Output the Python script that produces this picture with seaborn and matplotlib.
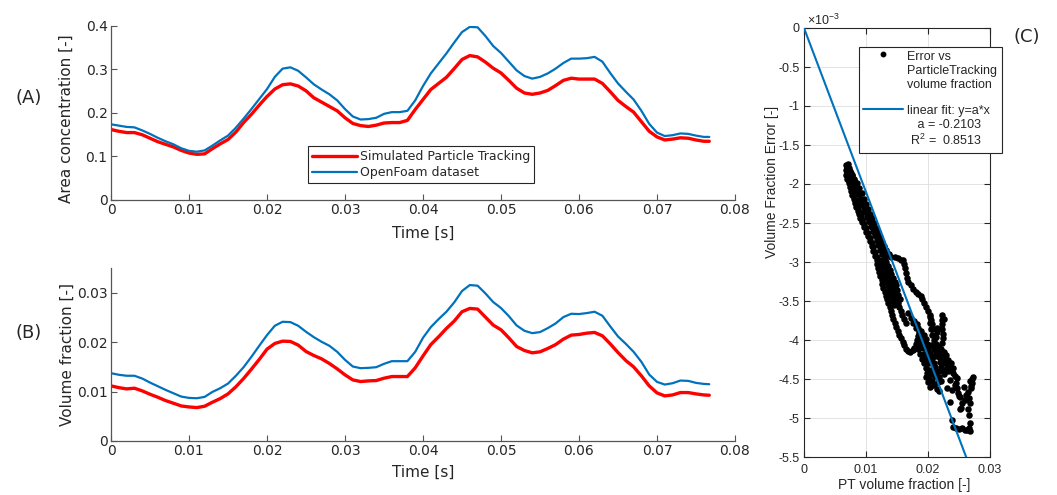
import numpy as np
import pandas as pd
import matplotlib
matplotlib.use("Agg")
import matplotlib.pyplot as plt
import seaborn as sns
from matplotlib.lines import Line2D
from matplotlib.legend_handler import HandlerLine2D
from matplotlib.ticker import FuncFormatter

# ---------------------------------------------------------------- data
# sample times [s]: every millisecond, plus the final sample
time_s = list(np.round(np.arange(77) * 0.001, 3)) + [0.0767]

# (A) area concentration [-]
area_pt = [0.162, 0.158, 0.155, 0.155, 0.150, 0.142, 0.134, 0.128, 0.122, 0.114,
           0.108, 0.105, 0.106, 0.118, 0.129, 0.139, 0.156, 0.178, 0.197, 0.218,
           0.238, 0.255, 0.265, 0.267, 0.262, 0.251, 0.235, 0.225, 0.215, 0.205,
           0.189, 0.176, 0.171, 0.169, 0.172, 0.177, 0.178, 0.178, 0.183, 0.208,
           0.231, 0.254, 0.268, 0.282, 0.302, 0.323, 0.332, 0.329, 0.317, 0.303,
           0.292, 0.275, 0.257, 0.246, 0.243, 0.246, 0.252, 0.263, 0.275, 0.280,
           0.278, 0.278, 0.278, 0.268, 0.249, 0.229, 0.215, 0.202, 0.180, 0.158,
           0.145, 0.138, 0.140, 0.143, 0.142, 0.138, 0.135, 0.135]
area_of = [0.174, 0.171, 0.168, 0.167, 0.160, 0.152, 0.143, 0.135, 0.128, 0.119,
           0.113, 0.111, 0.114, 0.125, 0.137, 0.148, 0.166, 0.187, 0.209, 0.232,
           0.255, 0.283, 0.302, 0.305, 0.297, 0.282, 0.266, 0.254, 0.243, 0.229,
           0.209, 0.192, 0.185, 0.186, 0.189, 0.198, 0.202, 0.202, 0.205, 0.229,
           0.262, 0.291, 0.314, 0.337, 0.362, 0.386, 0.398, 0.397, 0.377, 0.354,
           0.338, 0.318, 0.298, 0.285, 0.279, 0.283, 0.291, 0.302, 0.315, 0.325,
           0.325, 0.326, 0.329, 0.318, 0.292, 0.268, 0.249, 0.231, 0.205, 0.175,
           0.155, 0.147, 0.149, 0.153, 0.152, 0.148, 0.145, 0.145]

# (B) volume fraction [-]
vol_pt = [0.01115, 0.0108, 0.01054, 0.01068, 0.01014, 0.00946, 0.00885, 0.00818, 0.00764, 0.00709,
          0.00689, 0.00676, 0.00703, 0.00784, 0.00858, 0.00953, 0.01095, 0.01264, 0.01453, 0.01649,
          0.01858, 0.01973, 0.0202, 0.02014, 0.0194, 0.01811, 0.0173, 0.01662, 0.01568, 0.01459,
          0.01338, 0.01236, 0.01203, 0.01216, 0.01223, 0.0127, 0.01304, 0.01304, 0.01304, 0.0148,
          0.0172, 0.0195, 0.02108, 0.02277, 0.02426, 0.02615, 0.02682, 0.02669, 0.02507, 0.02345,
          0.0225, 0.02088, 0.01912, 0.01831, 0.01784, 0.01804, 0.01872, 0.0195, 0.02061, 0.02142,
          0.02155, 0.02182, 0.02196, 0.02128, 0.01966, 0.0179, 0.01628, 0.015, 0.01318, 0.01115,
          0.00973, 0.00912, 0.00932, 0.0098, 0.0098, 0.00953, 0.00932, 0.00926]
vol_of = [0.01372, 0.0134, 0.0132, 0.0132, 0.01264, 0.01182, 0.01108, 0.01034, 0.00966, 0.00899,
          0.00872, 0.00865, 0.00892, 0.00993, 0.01068, 0.01162, 0.01318, 0.01493, 0.01703, 0.01926,
          0.02142, 0.02331, 0.02412, 0.02405, 0.02331, 0.0221, 0.02101, 0.02007, 0.01926, 0.01804,
          0.01642, 0.01507, 0.01473, 0.0148, 0.01493, 0.01561, 0.01615, 0.01615, 0.01615, 0.01804,
          0.02088, 0.02304, 0.02466, 0.02615, 0.02804, 0.03034, 0.03155, 0.03142, 0.02986, 0.02811,
          0.0269, 0.02527, 0.02338, 0.0223, 0.02182, 0.02203, 0.02284, 0.02378, 0.02507, 0.02574,
          0.02568, 0.02588, 0.02615, 0.02534, 0.0232, 0.02115, 0.01966, 0.01804, 0.01601, 0.01345,
          0.01196, 0.01142, 0.01169, 0.01223, 0.01216, 0.01176, 0.01155, 0.01149]

# (C) volume-fraction error vs particle-tracking volume fraction
# error values are given in units of 1e-3
band_left_x = [0.0067, 0.0067, 0.0068, 0.0070, 0.0072, 0.0074, 0.0076, 0.0078, 0.0080, 0.0082, 0.0084, 0.0087,
               0.0089, 0.0091, 0.0094, 0.0097, 0.0100, 0.0103, 0.0106, 0.0109, 0.0112, 0.0115, 0.0118]
band_left_e = [-1.76, -1.82, -1.88, -1.94, -1.99, -2.04, -2.09, -2.14, -2.19, -2.24, -2.29, -2.34,
               -2.39, -2.44, -2.49, -2.55, -2.61, -2.67, -2.73, -2.80, -2.86, -2.92, -2.98]
band_inner_x = [0.0069, 0.0070, 0.0071, 0.0073, 0.0075, 0.0077, 0.0079, 0.0081, 0.0083, 0.0085, 0.0087, 0.0090,
                0.0092, 0.0094, 0.0097, 0.0100, 0.0103, 0.0106, 0.0109, 0.0112, 0.0115, 0.0118, 0.0121]
band_inner_e = [-1.79, -1.85, -1.91, -1.96, -2.02, -2.07, -2.12, -2.17, -2.21, -2.26, -2.31, -2.36,
                -2.41, -2.46, -2.51, -2.57, -2.63, -2.69, -2.75, -2.81, -2.87, -2.93, -2.99]
band_mid_x = [0.0071, 0.0073, 0.0075, 0.0077, 0.0080, 0.0083, 0.0085, 0.0088, 0.0090, 0.0093, 0.0096,
              0.0099, 0.0102, 0.0105, 0.0108, 0.0111, 0.0114, 0.0117, 0.0120, 0.0123, 0.0126]
band_mid_e = [-1.74, -1.80, -1.86, -1.92, -1.97, -2.03, -2.08, -2.13, -2.19, -2.25, -2.30,
              -2.36, -2.42, -2.48, -2.54, -2.60, -2.66, -2.72, -2.78, -2.84, -2.90]
band_outer_x = [0.0074, 0.0077, 0.0080, 0.0083, 0.0086, 0.0089, 0.0092, 0.0095, 0.0098, 0.0101, 0.0104,
                0.0107, 0.0110, 0.0113, 0.0116, 0.0119, 0.0122, 0.0125, 0.0128, 0.0131]
band_outer_e = [-1.83, -1.89, -1.95, -2.01, -2.07, -2.13, -2.19, -2.25, -2.31, -2.37, -2.43,
                -2.49, -2.55, -2.61, -2.67, -2.73, -2.79, -2.85, -2.90, -2.94]
band_right_x = [0.0078, 0.0081, 0.0085, 0.0089, 0.0093, 0.0097, 0.0100, 0.0103, 0.0107, 0.0110, 0.0113, 0.0116,
                0.0119, 0.0122, 0.0126, 0.0129, 0.0133, 0.0137, 0.0141, 0.0146, 0.0151, 0.0156, 0.0160]
band_right_e = [-1.88, -1.94, -1.99, -2.05, -2.12, -2.19, -2.26, -2.32, -2.38, -2.44, -2.50, -2.56,
                -2.62, -2.68, -2.74, -2.80, -2.85, -2.90, -2.93, -2.94, -2.95, -2.97, -2.98]
low_left_x = [0.0117, 0.0119, 0.0121, 0.0123, 0.0125, 0.0126, 0.0128, 0.0130, 0.0132, 0.0134,
              0.0120, 0.0123, 0.0126, 0.0129, 0.0131, 0.0133, 0.0135, 0.0137, 0.0139, 0.0141, 0.0143, 0.0145]
low_left_e = [-3.03, -3.08, -3.13, -3.18, -3.23, -3.28, -3.33, -3.38, -3.43, -3.48,
              -3.00, -3.05, -3.10, -3.15, -3.20, -3.25, -3.30, -3.35, -3.40, -3.45, -3.50, -3.55]
low_mid_x = [0.0125, 0.0128, 0.0131, 0.0134, 0.0136, 0.0139, 0.0141, 0.0143, 0.0145, 0.0147, 0.0149, 0.0151,
             0.0153, 0.0156, 0.0158, 0.0161, 0.0164,
             0.0130, 0.0133, 0.0136, 0.0139, 0.0141, 0.0143, 0.0146, 0.0148, 0.0150, 0.0152, 0.0155]
low_mid_e = [-2.98, -3.03, -3.08, -3.13, -3.18, -3.23, -3.28, -3.33, -3.38, -3.43, -3.48, -3.53,
             -3.58, -3.63, -3.68, -3.73, -3.78,
             -2.96, -3.00, -3.05, -3.10, -3.15, -3.20, -3.25, -3.30, -3.36, -3.42, -3.47]
branch_x = [0.0162, 0.0163, 0.0164, 0.0166, 0.0168, 0.0172, 0.0176, 0.0180, 0.0184, 0.0188, 0.0191,
            0.0194, 0.0197, 0.0200, 0.0203, 0.0205, 0.0206, 0.0207]
branch_e = [-3.02, -3.08, -3.14, -3.20, -3.26, -3.30, -3.34, -3.38, -3.41, -3.44, -3.48,
            -3.53, -3.58, -3.63, -3.68, -3.74, -3.80, -3.86]
loop_x = [0.0136, 0.0138, 0.0140, 0.0142, 0.0144, 0.0146, 0.0148, 0.0151, 0.0154, 0.0157, 0.0159,
          0.0161, 0.0164, 0.0167, 0.0171, 0.0175, 0.0178, 0.0180, 0.0182, 0.0184, 0.0186]
loop_e = [-3.53, -3.58, -3.63, -3.68, -3.73, -3.78, -3.83, -3.88, -3.93, -3.97, -4.02,
          -4.07, -4.11, -4.14, -4.15, -4.13, -4.10, -4.05, -4.00, -3.95, -3.90]
core_a_x = [0.0188, 0.0190, 0.0186, 0.0184, 0.0187, 0.0190, 0.0193, 0.0196, 0.0199, 0.0202, 0.0206,
            0.0210, 0.0214, 0.0217]
core_a_e = [-3.95, -4.00, -4.06, -4.12, -4.18, -4.24, -4.30, -4.36, -4.42, -4.48, -4.53,
            -4.58, -4.63, -4.66]
core_b_x = [0.0168, 0.0172, 0.0176, 0.0180, 0.0184, 0.0189, 0.0193, 0.0196, 0.0198, 0.0200, 0.0203,
            0.0206, 0.0209, 0.0212, 0.0215, 0.0218, 0.0221]
core_b_e = [-3.66, -3.72, -3.78, -3.84, -3.85, -3.88, -3.93, -3.99, -4.05, -4.11, -4.17,
            -4.23, -4.29, -4.35, -4.41, -4.47, -4.52]
core_c_x = [0.0203, 0.0204, 0.0205, 0.0207, 0.0210, 0.0213, 0.0217, 0.0221, 0.0225, 0.0229, 0.0232,
            0.0234, 0.0236, 0.0240, 0.0244, 0.0247]
core_c_e = [-3.70, -3.78, -3.86, -3.94, -4.00, -4.05, -4.09, -4.12, -4.15, -4.19, -4.25,
            -4.31, -4.37, -4.42, -4.46, -4.49]
core_fill_x = [0.0178, 0.0182, 0.0186, 0.0190, 0.0194, 0.0197, 0.0200, 0.0203, 0.0206, 0.0209, 0.0212,
               0.0215, 0.0218, 0.0221, 0.0224, 0.0227, 0.0230, 0.0233, 0.0205, 0.0209, 0.0213, 0.0217,
               0.0221, 0.0225, 0.0229, 0.0201, 0.0205, 0.0196, 0.0200, 0.0204]
core_fill_e = [-3.75, -3.80, -3.92, -3.98, -4.04, -4.10, -4.16, -4.22, -4.28, -4.34, -4.40,
               -4.46, -4.40, -4.34, -4.26, -4.22, -4.36, -4.40, -4.06, -4.12, -4.16, -4.16,
               -4.20, -4.24, -4.26, -4.38, -4.44, -4.48, -4.54, -4.60]
spike_x = [0.0222, 0.0222, 0.0223, 0.0223, 0.0224, 0.0224, 0.0223, 0.0215, 0.0214, 0.0213, 0.0226,
           0.0194, 0.0198, 0.0202, 0.0192, 0.0208, 0.0212, 0.0216, 0.0224, 0.0228, 0.0220, 0.0226,
           0.0211, 0.0217]
spike_e = [-3.68, -3.74, -3.80, -3.86, -3.92, -3.98, -4.04, -3.84, -3.90, -3.96, -3.73,
           -4.18, -4.24, -4.30, -4.10, -4.40, -4.46, -4.54, -4.38, -4.30, -4.28, -4.44,
           -4.20, -4.22]
tail_x = [0.0235, 0.0239, 0.0248, 0.0235, 0.0255, 0.0268, 0.0265, 0.0271, 0.0272, 0.0270, 0.0266, 0.0264,
          0.0266, 0.0267, 0.0239, 0.0241, 0.0245, 0.0250, 0.0255, 0.0259, 0.0263, 0.0266, 0.0252, 0.0252,
          0.0260, 0.0244, 0.0230, 0.0258, 0.0262, 0.0268, 0.0268, 0.0245, 0.0247, 0.0250, 0.0253, 0.0237,
          0.0240, 0.0271, 0.0269]
tail_e = [-4.51, -4.64, -4.68, -4.79, -4.81, -4.81, -4.67, -4.55, -4.47, -4.62, -4.74, -4.88,
          -4.96, -5.06, -5.03, -5.12, -5.13, -5.14, -5.13, -5.15, -5.16, -5.13, -4.73, -4.88,
          -4.77, -4.58, -4.62, -4.60, -4.70, -5.17, -4.52, -4.55, -4.62, -4.72, -4.87, -4.30,
          -4.36, -4.50, -4.59]

fit_slope = -0.2103
fit_r2 = 0.8513

# ---------------------------------------------------------------- style
sns.set_style("ticks")
plt.rcParams["font.family"] = ["DejaVu Sans"]
plt.rcParams["axes.unicode_minus"] = False
plt.rcParams["mathtext.fontset"] = "custom"
plt.rcParams["mathtext.rm"] = "Liberation Sans"
plt.rcParams["mathtext.it"] = "Liberation Sans:italic"

RED = "#FF0000"
BLUE = "#0072BD"
INK = "#262626"
ARIAL = "Liberation Sans"

fig = plt.figure(figsize=(10.57, 4.95), dpi=100)
W, H = 1057.0, 495.0
ax_a = fig.add_axes([111 / W, 1 - 200 / H, 624 / W, 174 / H])
ax_b = fig.add_axes([111 / W, 1 - 441 / H, 624 / W, 173 / H])
ax_c = fig.add_axes([804 / W, 1 - 457 / H, 186 / W, 429 / H])

# ---------------------------------------------------------------- (A) and (B)
df_a = pd.DataFrame({"t": time_s, "pt": area_pt, "of": area_of})
df_b = pd.DataFrame({"t": time_s, "pt": vol_pt, "of": vol_of})

sns.lineplot(data=df_a, x="t", y="pt", ax=ax_a, color=RED, lw=2.4,
             label="Simulated Particle Tracking")
sns.lineplot(data=df_a, x="t", y="of", ax=ax_a, color=BLUE, lw=1.6,
             label="OpenFoam dataset")
sns.lineplot(data=df_b, x="t", y="pt", ax=ax_b, color=RED, lw=2.4)
sns.lineplot(data=df_b, x="t", y="of", ax=ax_b, color=BLUE, lw=1.6)

plain = FuncFormatter(lambda v, p: f"{v:g}")
for ax in (ax_a, ax_b):
    ax.set_xlim(0, 0.08)
    ax.set_xticks(np.round(np.arange(0, 0.0801, 0.01), 3))
    ax.xaxis.set_major_formatter(plain)
    ax.yaxis.set_major_formatter(plain)
    for side in ("top", "right"):
        ax.spines[side].set_visible(False)
    for side in ("left", "bottom"):
        ax.spines[side].set_color("#555555")
        ax.spines[side].set_linewidth(0.9)
    ax.tick_params(direction="in", length=4, width=0.8, color="#555555",
                   labelsize=10, labelcolor=INK, pad=2.5)
    ax.set_xlabel("Time [s]", fontsize=11, color=INK)

ax_a.set_ylim(0, 0.4)
ax_a.set_yticks(np.round(np.arange(0, 0.401, 0.1), 2))
ax_a.set_ylabel("Area concentration [-]", fontsize=11, color=INK)
ax_a.yaxis.set_label_coords(-0.059, 0.47)
ax_a.xaxis.set_label_coords(0.5, -0.149)

ax_b.set_ylim(0, 0.035)
ax_b.set_yticks(np.round(np.arange(0, 0.0301, 0.01), 3))
ax_b.set_ylabel("Volume fraction [-]", fontsize=11, color=INK)
ax_b.yaxis.set_label_coords(-0.058, 0.5)
ax_b.xaxis.set_label_coords(0.5, -0.139)

leg_a = ax_a.legend(loc="lower left", bbox_to_anchor=(0.3157, 0.0977), borderaxespad=0,
                    fontsize=9, frameon=True, fancybox=False, framealpha=1,
                    edgecolor=INK, handlelength=3.6, handletextpad=0.3,
                    labelspacing=0.25, borderpad=0.3)
leg_a.get_frame().set_linewidth(0.8)

# ---------------------------------------------------------------- (C)
pt_frac = np.array(band_left_x + band_inner_x + band_mid_x + band_outer_x + band_right_x
                   + low_left_x + low_mid_x + branch_x + loop_x + core_a_x + core_b_x
                   + core_c_x + core_fill_x + spike_x + tail_x)
frac_err = np.array(band_left_e + band_inner_e + band_mid_e + band_outer_e + band_right_e
                    + low_left_e + low_mid_e + branch_e + loop_e + core_a_e + core_b_e
                    + core_c_e + core_fill_e + spike_e + tail_e) * 1e-3

sns.scatterplot(x=pt_frac, y=frac_err, ax=ax_c, color="black", s=22, linewidth=0, zorder=3)

c_xlim = (0, 0.03)
c_ylim = (-5.5e-3, 0)
fit_x = np.array(c_xlim)
sns.lineplot(x=fit_x, y=fit_slope * fit_x, ax=ax_c, color=BLUE, lw=1.5, zorder=4)

ax_c.set_xlim(*c_xlim)
ax_c.set_ylim(*c_ylim)
xt = np.round(np.arange(0, 0.0301, 0.01), 3)
yt = np.round(np.arange(-5.5, 0.01, 0.5), 1) * 1e-3
ax_c.set_xticks(xt, [f"{v:g}" for v in xt], fontfamily=ARIAL, fontsize=9, color=INK)
ax_c.set_yticks(yt, [f"{v * 1e3:g}" for v in yt], fontfamily=ARIAL, fontsize=9, color=INK)
ax_c.tick_params(direction="in", length=4, width=0.8, color=INK, top=True, right=True)
ax_c.tick_params(axis="x", pad=5)
ax_c.tick_params(axis="y", pad=3)
for side in ax_c.spines.values():
    side.set_visible(True)
    side.set_color(INK)
    side.set_linewidth(0.8)
ax_c.grid(True, color="#dedede", lw=0.6)
ax_c.set_axisbelow(True)

ax_c.set_xlabel("PT volume fraction [-]", fontfamily=ARIAL, fontsize=10, color=INK)
ax_c.xaxis.set_label_coords(0.54, -0.048)
ax_c.set_ylabel("Volume Fraction Error [-]", fontfamily=ARIAL, fontsize=10, color=INK)
ax_c.yaxis.set_label_coords(-0.134, 0.641)
ax_c.text(0.016, 1.0, r"$\times10^{-3}$", transform=ax_c.transAxes, ha="left", va="bottom",
          fontsize=9, color=INK)


class FirstLineHandler(HandlerLine2D):
    """Puts the legend key level with the first line of a multi-line label."""

    def __init__(self, n_lines, **kw):
        super().__init__(**kw)
        self.n_lines = n_lines

    def create_artists(self, legend, orig_handle, xdescent, ydescent, width, height,
                       fontsize, trans):
        arts = super().create_artists(legend, orig_handle, xdescent, ydescent, width,
                                      height, fontsize, trans)
        lift = 0.5 * (self.n_lines - 1) * 1.2 * 1.15 * fontsize
        for art in arts:
            art.set_ydata(np.asarray(art.get_ydata(), float) + lift)
        return arts


dot_key = Line2D([], [], ls="none", marker="o", color="black", markersize=3.2)
fit_key = Line2D([], [], color=BLUE, lw=1.5)
labels_c = ["Error vs\nParticleTracking\nvolume fraction",
            f"linear fit: y=a*x\n   a = {fit_slope:.4f}\n R$^2$ =  {fit_r2:.4f}"]
leg_c = ax_c.legend([dot_key, fit_key], labels_c,
                    handler_map={dot_key: FirstLineHandler(3), fit_key: FirstLineHandler(3)},
                    loc="upper left", bbox_to_anchor=(859 / W, 1 - 47 / H),
                    bbox_transform=fig.transFigure, borderaxespad=0,
                    prop={"family": ARIAL, "size": 9}, frameon=True, fancybox=False,
                    framealpha=1, edgecolor=INK, handlelength=3.2, handletextpad=0.3,
                    labelspacing=1.1, borderpad=0.35)
leg_c.get_frame().set_linewidth(0.8)
for txt in leg_c.get_texts():
    txt.set_color(INK)

# ---------------------------------------------------------------- panel tags
fig.text(29 / W, 1 - 98 / H, "(A)", ha="center", va="center", fontsize=13, color=INK)
fig.text(29 / W, 1 - 333 / H, "(B)", ha="center", va="center", fontsize=13, color=INK)
fig.text(1027 / W, 1 - 37 / H, "(C)", ha="center", va="center", fontsize=13, color=INK)

fig.savefig("out.png", dpi=100)
